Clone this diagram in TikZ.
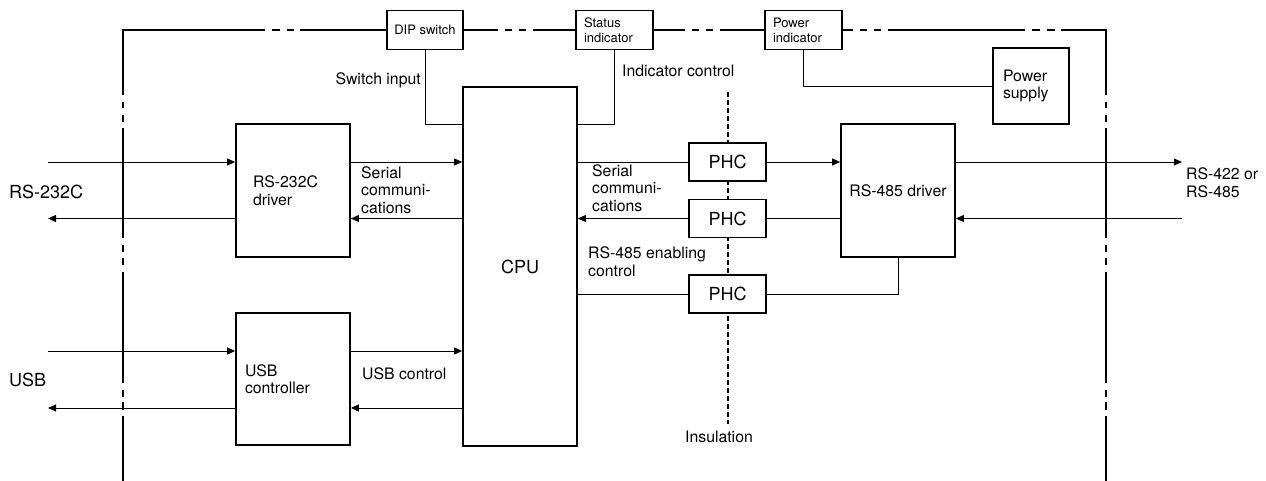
\documentclass[tikz,border=0pt]{standalone}
\usepackage{fontspec}
\setmainfont{TeX Gyre Heros}
\usetikzlibrary{arrows.meta}
\newcommand\fbig{\fontsize{18}{20}\selectfont}
\newcommand\fmed{\fontsize{15.8}{17.5}\selectfont}
\newcommand\fsml{\fontsize{13}{15}\selectfont}
\begin{document}
\begin{tikzpicture}[x=1pt,y=-1pt,
  box/.style={draw, line width=1.8pt, fill=white, inner ysep=0pt},
  conn/.style={line width=0.9pt},
  arr/.style={conn, -{Triangle[length=8pt,width=7pt]}},
  frame/.style={line width=1.5pt},
  insline/.style={line width=1.3pt, dash pattern=on 5pt off 3pt},
  lbl/.style={inner sep=0pt, align=left, font=\fmed}]
\useasboundingbox (0,0) rectangle (1266,481);

% insulation line (behind PHC boxes)
\coordinate (insTop) at (728,92);
\coordinate (insBot) at (728,424);
\draw[insline] (insTop) -- (insBot);
\node[inner sep=0pt, font=\fmed] (insul) at (719,437) {Insulation};

% boxes
\node[box, minimum width=76pt, minimum height=39pt, inner xsep=0pt, font=\fsml] (dip) at (425,30) {DIP switch};
\node[box, minimum width=77pt, minimum height=39pt, inner xsep=8pt, text width=61pt, align=left, font=\fsml] (stat) at (614.5,30) {Status\\indicator};
\node[box, minimum width=77pt, minimum height=39pt, inner xsep=8pt, text width=61pt, align=left, font=\fsml] (pwi) at (803.5,30) {Power\\indicator};
\node[box, minimum width=76pt, minimum height=76pt, inner xsep=10pt, text width=56pt, align=left, font=\fmed] (psu) at (1031,86) {Power\\supply};
\node[box, minimum width=114pt, minimum height=359pt, font=\fbig] (cpu) at (520,266.5) {CPU};
\node[box, minimum width=114pt, minimum height=133pt, inner xsep=17pt, text width=80pt, align=left, font=\fmed] (rs232) at (293,190.5) {RS-232C\\driver};
\node[box, minimum width=114pt, minimum height=132pt, inner xsep=9pt, text width=96pt, align=left, font=\fmed] (usb) at (293,379) {USB\\controller};
\node[box, minimum width=114pt, minimum height=133pt, inner xsep=0pt, font=\fmed] (rs485) at (898,190.5) {RS-485 driver};
\node[box, minimum width=77pt, minimum height=38pt, font=\fbig] (phc1) at (727.5,162) {PHC};
\node[box, minimum width=77pt, minimum height=38pt, font=\fbig] (phc2) at (727.5,218.5) {PHC};
\node[box, minimum width=77pt, minimum height=38pt, font=\fbig] (phc3) at (727.5,294) {PHC};

% outer frame
\draw[frame, line join=miter]
  (123,481) -- (123,416) (123,410) -- (123,402) (123,397) -- (123,390)
  (123,383) -- (123,272) (123,265) -- (123,258) (123,252) -- (123,245)
  (123,238) -- (123,128) (123,122) -- (123,115) (123,108) -- (123,102)
  (123,95) -- (123,30) -- (265,30) (272,30) -- (280,30) (287,30) -- (294,30)
  (300,30) -- (dip.west)
  (dip.east) -- (498,30) (505,30) -- (512,30) (519,30) -- (526,30) (533,30) -- (stat.west)
  (stat.east) -- (685,30) (692,30) -- (699,30) (706,30) -- (713,30) (720,30) -- (pwi.west)
  (pwi.east) -- (853,30) (860,30) -- (867,30) (874,30) -- (881,30)
  (888,30) -- (1025,30) (1032,30) -- (1040,30) (1047,30) -- (1055,30)
  (1061,30) -- (1106,30) -- (1106,95) (1106,102) -- (1106,108) (1106,115) -- (1106,122)
  (1106,128) -- (1106,238) (1106,245) -- (1106,252) (1106,258) -- (1106,265)
  (1106,272) -- (1106,383) (1106,390) -- (1106,397) (1106,402) -- (1106,410)
  (1106,416) -- (1106,481);

% row coordinates
\coordinate (r0) at (0,124);
\coordinate (r1) at (0,162);
\coordinate (r2) at (0,218.5);
\coordinate (u1) at (0,351);
\coordinate (u2) at (0,408);
\coordinate (inL1) at (48,162);
\coordinate (outL1) at (48,218.5);
\coordinate (inL2) at (48,351);
\coordinate (outL2) at (48,408);
\coordinate (outR) at (1182,162);
\coordinate (inR) at (1182,218.5);

% top connectors
\draw[conn] (dip.south) |- (cpu.west |- r0);
\draw[conn] (stat.south) |- (cpu.east |- r0);
\draw[conn] (pwi.south) |- (psu.west);

% RS-232C side
\draw[arr] (inL1) -- (rs232.west |- r1);
\draw[arr] (rs232.west |- r2) -- (outL1);
\draw[arr] (rs232.east |- r1) -- (cpu.west |- r1);
\draw[arr] (cpu.west |- r2) -- (rs232.east |- r2);

% USB side
\draw[arr] (inL2) -- (usb.west |- u1);
\draw[arr] (usb.west |- u2) -- (outL2);
\draw[arr] (usb.east |- u1) -- (cpu.west |- u1);
\draw[arr] (cpu.west |- u2) -- (usb.east |- u2);

% CPU - PHC - RS-485
\draw[conn] (cpu.east |- phc1) -- (phc1.west);
\draw[arr] (phc1.east) -- (rs485.west |- phc1);
\draw[conn] (rs485.west |- phc2) -- (phc2.east);
\draw[arr] (phc2.west) -- (cpu.east |- phc2);
\draw[conn] (cpu.east |- phc3) -- (phc3.west);
\draw[conn] (phc3.east) -| (rs485.south);
\draw[arr] (rs485.east |- r1) -- (outR);
\draw[arr] (inR) -- (rs485.east |- r2);

% labels
\node[lbl, anchor=east] (lsw) at (421,80) {Switch input};
\node[lbl, anchor=west] (lind) at (622,71) {Indicator control};
\node[lbl, anchor=west] (lser1) at (361,190) {Serial\\communi-\\cations};
\node[lbl, anchor=west] (lser2) at (592,188) {Serial\\communi-\\cations};
\node[lbl, anchor=west] (len) at (588,261.5) {RS-485 enabling\\control};
\node[lbl, anchor=west] (lusbc) at (362,374) {USB control};
\node[lbl, anchor=west, font=\fbig] (l232) at (9,192) {RS-232C};
\node[lbl, anchor=west, font=\fbig] (lusb) at (9,380) {USB};
\node[lbl, anchor=west] (l485) at (1186,182.5) {RS-422 or\\RS-485};
\end{tikzpicture}
\end{document}
